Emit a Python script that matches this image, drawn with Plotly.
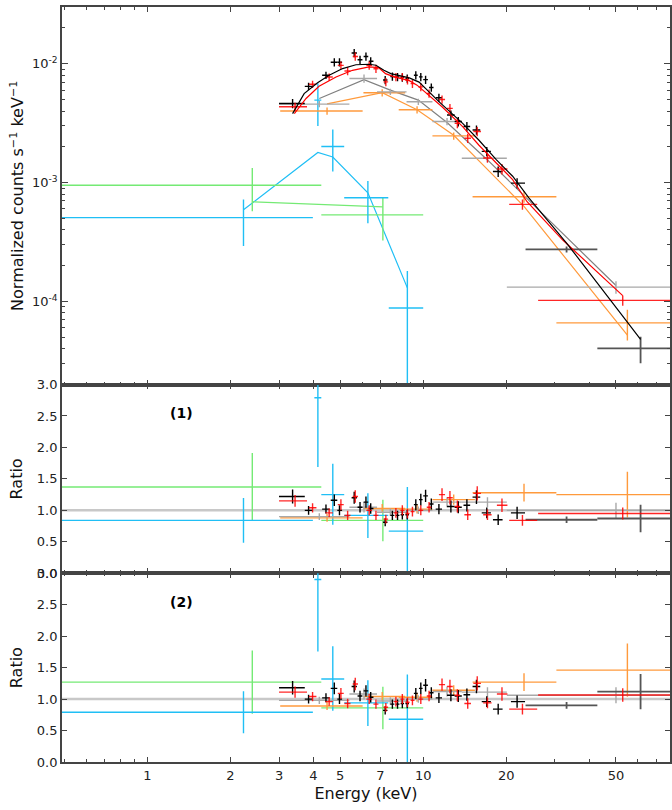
import numpy as np
import plotly.graph_objects as go
from plotly.subplots import make_subplots

# ---------------- data ----------------
# black (detector A)
bE  = [3.36, 3.84, 4.44, 4.76, 4.97, 5.62, 5.90, 6.20, 6.45, 7.28, 7.73, 8.07, 8.40, 8.75, 9.40, 9.80, 10.2, 10.7, 11.4, 12.6, 13.4, 14.4, 15.6, 17.0, 18.7, 21.9]
bLo = [3.00, 3.72, 4.30, 4.62, 4.88, 5.50, 5.78, 6.08, 6.35, 7.15, 7.60, 7.95, 8.28, 8.62, 9.25, 9.65, 10.0, 10.5, 11.1, 12.2, 13.0, 14.0, 15.1, 16.3, 17.9, 20.8]
bHi = [3.72, 3.97, 4.58, 4.88, 5.08, 5.75, 6.02, 6.32, 6.60, 7.42, 7.86, 8.20, 8.52, 8.88, 9.55, 9.95, 10.4, 10.9, 11.7, 13.0, 13.8, 14.8, 16.1, 17.6, 19.4, 23.4]
bF  = [4.63e-3, 6.45e-3, 8.0e-3, 1.03e-2, 1.03e-2, 1.23e-2, 1.08e-2, 1.15e-2, 1.05e-2, 7.3e-3, 7.8e-3, 7.75e-3, 7.65e-3, 7.5e-3, 8.0e-3, 7.75e-3, 7.35e-3, 6.3e-3, 5.17e-3, 3.7e-3, 3.26e-3, 2.96e-3, 2.77e-3, 1.83e-3, 1.24e-3, 9.9e-4]
bErr = [0.09, 0.07, 0.07, 0.08, 0.08, 0.08, 0.08, 0.08, 0.08, 0.08, 0.08, 0.08, 0.08, 0.08, 0.08, 0.08, 0.08, 0.08, 0.08, 0.09, 0.09, 0.09, 0.09, 0.09, 0.10, 0.10]
bR1 = [1.22, 1.00, 1.02, 1.16, 1.00, 1.20, 1.05, 1.13, 1.03, 0.81, 0.92, 0.92, 0.93, 0.93, 1.09, 1.17, 1.23, 1.10, 1.02, 1.06, 1.05, 1.08, 1.21, 0.96, 0.85, 0.96]
bR2 = [1.18, 1.00, 1.02, 1.17, 1.00, 1.20, 1.05, 1.13, 1.03, 0.82, 0.92, 0.92, 0.93, 0.93, 1.09, 1.17, 1.22, 1.10, 1.02, 1.06, 1.05, 1.07, 1.20, 0.96, 0.84, 0.96]
bmE = [3.36, 3.70, 4.14, 4.56, 5.10, 5.70, 6.36, 6.74, 7.20, 7.63, 8.90, 9.40, 9.66, 10.5, 11.4, 13.9, 15.9, 18.4, 21.1, 24.2, 33.1, 61.4]
bmF = [3.8e-3, 5.6e-3, 6.9e-3, 8.0e-3, 9.1e-3, 9.8e-3, 9.9e-3, 9.7e-3, 8.8e-3, 8.25e-3, 7.6e-3, 7.25e-3, 7.0e-3, 5.8e-3, 4.8e-3, 3.15e-3, 2.28e-3, 1.56e-3, 1.13e-3, 7.4e-4, 3.1e-4, 4.8e-5]

# black high-energy wide bins (dark grey)
dE  = [33.1, 61.4]
dLo = [23.5, 42.8]
dHi = [42.8, 88.0]
dF  = [2.74e-4, 4.03e-5]
dErr = [0.06, 0.25]
dR1 = [0.85, 0.87]
dR2 = [0.90, 1.12]

# red (detector B)
rE  = [3.43, 3.97, 4.56, 5.03, 5.32, 5.67, 6.37, 6.74, 7.32, 7.96, 8.40, 8.77, 9.14, 9.80, 10.5, 11.7, 12.5, 13.3, 14.5, 15.7, 17.1, 19.3, 22.9, 52.9]
rLo = [3.00, 3.85, 4.42, 4.90, 5.18, 5.55, 6.22, 6.60, 7.18, 7.82, 8.26, 8.62, 9.00, 9.60, 10.3, 11.4, 12.2, 13.0, 14.1, 15.2, 16.5, 18.5, 20.5, 26.1]
rHi = [3.79, 4.10, 4.70, 5.15, 5.45, 5.80, 6.52, 6.88, 7.46, 8.10, 8.55, 8.92, 9.30, 10.0, 10.7, 12.0, 12.8, 13.6, 14.9, 16.2, 17.7, 20.2, 25.9, 88.0]
rF  = [4.35e-3, 6.72e-3, 7.74e-3, 9.68e-3, 8.69e-3, 1.15e-2, 9.68e-3, 9.08e-3, 7.03e-3, 7.74e-3, 7.74e-3, 7.25e-3, 6.8e-3, 6.38e-3, 5.61e-3, 5.0e-3, 4.21e-3, 3.15e-3, 2.36e-3, 2.69e-3, 1.61e-3, 1.3e-3, 6.55e-4, 1.02e-4]
rErr = [0.08, 0.07, 0.07, 0.08, 0.08, 0.08, 0.08, 0.08, 0.08, 0.08, 0.08, 0.08, 0.08, 0.08, 0.08, 0.08, 0.09, 0.09, 0.09, 0.09, 0.09, 0.10, 0.10, 0.10]
rR1 = [1.15, 1.04, 0.96, 1.09, 0.92, 1.22, 1.00, 0.92, 0.86, 0.96, 1.00, 0.95, 0.98, 1.00, 1.05, 1.25, 1.20, 1.06, 0.93, 1.27, 0.93, 1.08, 0.84, 0.95]
rR2 = [1.11, 1.04, 0.96, 1.09, 0.93, 1.24, 1.00, 0.92, 0.87, 0.96, 1.00, 0.95, 0.98, 1.00, 1.05, 1.23, 1.20, 1.06, 0.93, 1.25, 0.94, 1.08, 0.84, 1.065]
rmE = [3.41, 3.76, 4.19, 4.83, 5.54, 6.36, 6.90, 7.30, 7.85, 8.90, 9.50, 10.5, 11.7, 13.9, 15.9, 18.4, 21.1, 23.8, 32.0, 52.9]
rmF = [3.8e-3, 5.1e-3, 6.45e-3, 7.74e-3, 8.8e-3, 9.4e-3, 9.26e-3, 8.25e-3, 7.74e-3, 7.2e-3, 6.6e-3, 5.4e-3, 4.34e-3, 2.96e-3, 2.07e-3, 1.46e-3, 1.06e-3, 6.9e-4, 3.3e-4, 1.12e-4]

# grey
gE  = [4.2, 6.1, 7.6, 9.6, 12.2, 17.1, 50.0]
gLo = [3.0, 5.4, 6.8, 8.7, 10.8, 13.8, 20.1]
gHi = [5.4, 6.8, 8.7, 10.8, 13.8, 20.1, 88.0]
gF  = [4.57e-3, 7.5e-3, 5.8e-3, 4.79e-3, 3.26e-3, 1.6e-3, 1.32e-4]
gErr = [0.06, 0.08, 0.06, 0.06, 0.07, 0.07, 0.12]
gR1 = [0.90, 1.05, 0.97, 1.00, 1.13, 1.13, 1.00]
gR2 = [0.98, 1.08, 0.97, 1.00, 1.12, 1.11, 1.06]
gmE = [4.2, 6.1, 7.6, 9.6, 12.2, 17.1, 50.0]
gmF = [5.1e-3, 7.35e-3, 6.0e-3, 4.94e-3, 3.2e-3, 1.55e-3, 1.36e-4]

# orange
oE  = [4.48, 7.1, 9.5, 12.9, 23.2, 55.0]
oLo = [3.03, 6.07, 8.15, 10.8, 15.1, 30.4]
oHi = [6.03, 8.6, 10.8, 15.4, 30.4, 88.0]
oF  = [4.0e-3, 5.7e-3, 4.1e-3, 2.47e-3, 7.6e-4, 6.6e-5]
oErr = [0.07, 0.07, 0.07, 0.07, 0.11, 0.29]
oR1 = [0.88, 1.03, 1.02, 1.17, 1.28, 1.25]
oR2 = [0.89, 1.04, 1.03, 1.14, 1.27, 1.46]
omE = [4.48, 7.1, 9.5, 12.9, 23.2, 55.0]
omF = [4.6e-3, 5.7e-3, 4.1e-3, 2.5e-3, 6.3e-4, 5.2e-5]

# cyan
cE  = [2.23, 4.15, 4.70, 6.30, 8.76]
cLo = [0.40, 4.03, 4.27, 5.17, 7.50]
cHi = [3.98, 4.27, 5.17, 7.47, 10.0]
cF  = [5.07e-4, 4.94e-3, 2.01e-3, 7.45e-4, 8.8e-5]
cErrHi = [2.15e-4, 1.90e-3, 7.9e-4, 2.85e-4, 9.2e-5]
cErrLo = [2.15e-4, 1.95e-3, 7.7e-4, 2.90e-4, 8.79e-5]
cR1 = [0.84, 2.79, 1.25, 0.92, 0.67]
cR2 = [0.79, 2.90, 1.32, 0.94, 0.68]
cmE = [2.23, 4.15, 4.70, 6.30, 8.76]
cmF = [5.9e-4, 1.79e-3, 1.64e-3, 8.2e-4, 1.3e-4]

# green
nE  = [2.40, 7.14]
nLo = [0.40, 4.27]
nHi = [4.27, 10.0]
nF  = [9.5e-4, 5.35e-4]
nErr = [3.75e-4, 2.1e-4]
nR1 = [1.37, 0.84]
nR2 = [1.27, 0.86]
nmE = [2.40, 7.14]
nmF = [6.9e-4, 6.24e-4]

x_ticks = [1, 2, 3, 4, 5, 7, 10, 20, 50]
x_minor = [0.5, 0.6, 0.7, 0.8, 0.9, 6, 8, 9, 30, 40, 60, 70]
y_ticks = [1e-4, 1e-3, 1e-2]
y_ticktext = ["10<sup>-4</sup>", "10<sup>-3</sup>", "10<sup>-2</sup>"]
ratio_ticks = [0.0, 0.5, 1.0, 1.5, 2.0, 2.5, 3.0]

# ---------------- figure ----------------
BLACK = "#000000"
RED = "rgba(255,0,0,0.85)"
GREY_D = "#a8a8a8"
GREY_M = "#808080"
DARK = "#555555"
ORANGE = "#ff9a3c"
CYAN = "#20bff5"
GREEN = "#74ea74"

fig = make_subplots(rows=3, cols=1, shared_xaxes=True, vertical_spacing=0,
                    row_heights=[0.5, 0.25, 0.25])


def add_series(E, lo, hi, F, ferr_hi, ferr_lo, R1, R2, color, thick=1.4):
    E = np.asarray(E, float)
    lo = np.asarray(lo, float)
    hi = np.asarray(hi, float)
    F = np.asarray(F, float)
    eh = np.asarray(ferr_hi, float)
    el = np.asarray(ferr_lo, float)
    ex = dict(type="data", symmetric=False, array=hi - E, arrayminus=E - lo,
              width=0, thickness=thick, color=color)
    fig.add_trace(go.Scatter(
        x=E, y=F, mode="markers", marker=dict(size=1, opacity=0),
        error_x=ex,
        error_y=dict(type="data", symmetric=False, array=eh, arrayminus=el,
                     width=0, thickness=thick, color=color),
        hoverinfo="skip"), row=1, col=1)
    for row, R in ((2, R1), (3, R2)):
        R = np.asarray(R, float)
        fig.add_trace(go.Scatter(
            x=E, y=R, mode="markers", marker=dict(size=1, opacity=0),
            error_x=ex,
            error_y=dict(type="data", symmetric=False, array=R * eh / F,
                         arrayminus=R * el / F, width=0, thickness=thick,
                         color=color),
            hoverinfo="skip"), row=row, col=1)


def add_model(E, F, color, w=1.2):
    fig.add_trace(go.Scatter(x=E, y=F, mode="lines",
                             line=dict(color=color, width=w),
                             hoverinfo="skip"), row=1, col=1)


def rel(F, err):
    return [f * e for f, e in zip(F, err)]


# models first (below data)
add_model(gmE, gmF, GREY_M)
add_model(omE, omF, ORANGE)
add_model(cmE, cmF, CYAN)
add_model(nmE, nmF, GREEN)

add_series(nE, nLo, nHi, nF, nErr, nErr, nR1, nR2, GREEN)
add_series(cE, cLo, cHi, cF, cErrHi, cErrLo, cR1, cR2, CYAN)
add_series(oE, oLo, oHi, oF, rel(oF, oErr), rel(oF, oErr), oR1, oR2, ORANGE)
add_series(gE, gLo, gHi, gF, rel(gF, gErr), rel(gF, gErr), gR1, gR2, GREY_D)
add_series(dE, dLo, dHi, dF, rel(dF, dErr), rel(dF, dErr), dR1, dR2, DARK, 1.8)
add_series(bE, bLo, bHi, bF, rel(bF, bErr), rel(bF, bErr), bR1, bR2, BLACK)
add_series(rE, rLo, rHi, rF, rel(rF, rErr), rel(rF, rErr), rR1, rR2, RED)
add_model(rmE, rmF, "#ff0000")
add_model(bmE, bmF, BLACK)

for row in (2, 3):
    fig.add_hline(y=1.0, line=dict(color="#c8c8c8", width=2.5), layer="below",
                  row=row, col=1)

FONT = "DejaVu Sans"
axis_common = dict(showline=True, linecolor="#444444", linewidth=1.8,
                   mirror="ticks", ticks="inside", tickcolor="#444444",
                   tickwidth=1.2, showgrid=False, zeroline=False,
                   tickfont=dict(family=FONT, size=13, color="#222222"))

xrange = [np.log10(0.49), np.log10(78.5)]
for i in (1, 2, 3):
    fig.update_xaxes(type="log", range=xrange, tickmode="array",
                     tickvals=x_ticks, ticktext=[str(v) for v in x_ticks],
                     ticklen=5,
                     minor=dict(tickmode="array", tickvals=x_minor,
                                ticks="inside", ticklen=3, tickwidth=1,
                                tickcolor="#444444"),
                     showticklabels=(i == 3), row=i, col=1, **axis_common)

fig.update_xaxes(title=dict(text="Energy (keV)", standoff=6,
                            font=dict(family=FONT, size=16, color="#111111")),
                 row=3, col=1)

y_minor = [k * 10.0 ** e for e in (-5, -4, -3, -2) for k in range(2, 10)]
fig.update_yaxes(type="log", range=[np.log10(2.0e-5), np.log10(0.03)],
                 tickmode="array", tickvals=y_ticks, ticktext=y_ticktext,
                 ticklen=6,
                 minor=dict(tickmode="array", tickvals=y_minor,
                            ticks="inside", ticklen=3, tickwidth=1,
                            tickcolor="#444444"),
                 title=dict(text="Normalized counts s<sup>\u22121</sup> keV<sup>\u22121</sup>",
                            standoff=4,
                            font=dict(family=FONT, size=16, color="#111111")),
                 row=1, col=1, **axis_common)

for row in (2, 3):
    fig.update_yaxes(range=[0, 3], tickmode="array", tickvals=ratio_ticks,
                     ticktext=["%.1f" % v for v in ratio_ticks], ticklen=5,
                     title=dict(text="Ratio", standoff=10,
                                font=dict(family=FONT, size=16, color="#111111")),
                     row=row, col=1, **axis_common)

for row, label in ((2, "(1)"), (3, "(2)")):
    fig.add_annotation(x=np.log10(1.33), y=2.55, xref="x%d" % row,
                       yref="y%d" % row, text="<b>%s</b>" % label,
                       showarrow=False,
                       font=dict(family=FONT, size=14, color="#000000"))

fig.update_layout(width=672, height=810, showlegend=False,
                  margin=dict(l=62, r=0, t=3, b=48),
                  plot_bgcolor="white", paper_bgcolor="white",
                  font=dict(family=FONT))

fig.write_html("out.html")
